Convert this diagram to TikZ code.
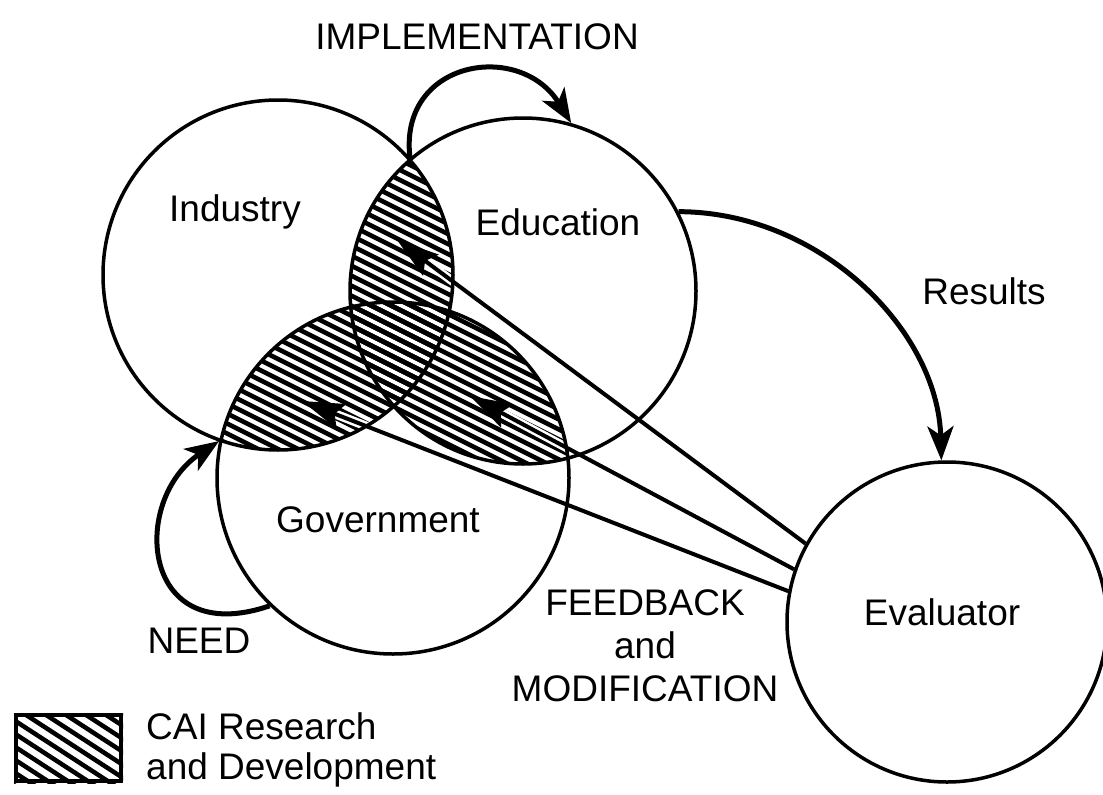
\documentclass[tikz,border=0pt]{standalone}
\usepackage{fontspec}
\setmainfont{Liberation Sans}
\usetikzlibrary{arrows.meta}
\pgfdeclarelayer{bg}
\pgfsetlayers{bg,main}
\begin{document}
\begin{tikzpicture}[x=1pt,y=-1pt,
  ring/.style={circle,draw,line width=3.5pt,inner sep=0pt},
  hatchline/.style={line width=4.5pt},
  flow/.style={line width=5pt,-{Stealth[length=34pt,width=26pt,inset=9pt]}},
  fb/.style={line width=4pt,-{Stealth[length=42pt,width=26pt,inset=7pt]}},
  halo/.style={white,line width=9pt,shorten >=26pt},
  lbl/.style={font=\fontsize{37}{43}\selectfont,align=center,inner sep=0pt}]
\useasboundingbox (0,0) rectangle (1103,795);

% circles
\node[ring,minimum size=350pt] (ind) at (278,275) {};
\node[ring,minimum size=346pt] (edu) at (523,291) {};
\node[ring,minimum size=352pt] (gov) at (393,478) {};
\node[ring,minimum size=320pt] (ev)  at (947,622) {};

% legend box
\node[draw,line width=4pt,minimum width=105pt,minimum height=66pt,inner sep=0pt] (leg) at (68.5,748) {};

% free ends
\coordinate (ie) at (410,158);
\coordinate (tA) at (397,240);
\coordinate (tB) at (470,396);
\coordinate (tC) at (302,401);

\begin{pgfonlayer}{bg}
  \begin{scope}
    \clip (ind.center) circle[radius=175pt];
    \clip (edu.center) circle[radius=173pt];
    \foreach \c in {-250,-240,...,450} \draw[hatchline] (0,\c) -- (1103,{\c+551.5});
  \end{scope}
  \begin{scope}
    \clip (ind.center) circle[radius=175pt];
    \clip (gov.center) circle[radius=176pt];
    \foreach \c in {-250,-240,...,450} \draw[hatchline] (0,\c) -- (1103,{\c+551.5});
  \end{scope}
  \begin{scope}
    \clip (edu.center) circle[radius=173pt];
    \clip (gov.center) circle[radius=176pt];
    \foreach \c in {-250,-240,...,450} \draw[hatchline] (0,\c) -- (1103,{\c+551.5});
  \end{scope}
  \begin{scope}
    \clip (leg.south west) rectangle (leg.north east);
    \foreach \c in {620,633,...,820} \draw[line width=4.5pt] (0,\c) -- (200,{\c+130});
  \end{scope}
  \draw[halo] (ev.151) -- (tA);
  \draw[halo] (ev.161) -- (tB);
  \draw[halo] (ev.169) -- (tC);
\end{pgfonlayer}

% feedback lines
\draw[fb] (ev.151) -- (tA);
\draw[fb] (ev.161) -- (tB);
\draw[fb] (ev.169) -- (tC);

% flows
\draw[flow] (ie) .. controls (398,60) and (520,40) .. (edu.74);
\draw[flow] (edu.27) .. controls (820,212) and (938,330) .. (ev.92);
\draw[flow] (gov.226) .. controls (140,650) and (130,500) .. (gov.168);

% labels
\node[lbl] (limpl) at (477,37) {IMPLEMENTATION};
\node[lbl] (lind) at (235,212) {Industry};
\node[lbl] (ledu) at (558,222) {Education};
\node[lbl] (lres) at (984,291) {Results};
\node[lbl] (lgov) at (378,520) {Government};
\node[lbl] (lev) at (942,612) {Evaluator};
\node[lbl] (lneed) at (199,641) {NEED};
\node[lbl] (lfb) at (645,646) {FEEDBACK\\and\\MODIFICATION};
\node[lbl,align=left,anchor=west,font=\fontsize{37}{40}\selectfont] (legtxt) at (146,750) {CAI Research\\and Development};
\end{tikzpicture}
\end{document}
